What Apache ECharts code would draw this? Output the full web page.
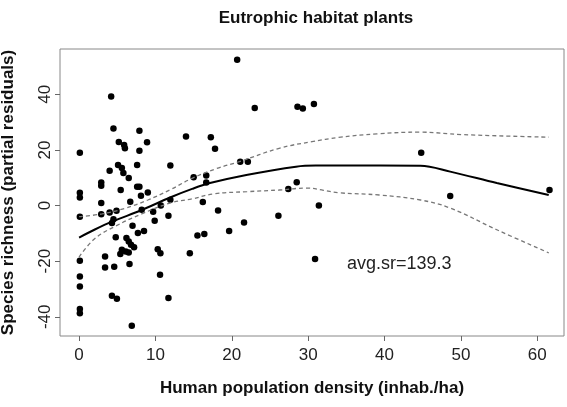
<!DOCTYPE html>
<html>
<head>
<meta charset="utf-8">
<script src="https://cdn.jsdelivr.net/npm/echarts@6/dist/echarts.min.js"></script>
<style>
  html, body { margin: 0; padding: 0; background: #fff; }
  #chart { width: 567px; height: 407px; }
</style>
</head>
<body>
<div id="chart"></div>
<script>
// partial residuals: [density, residual]
const points = [
  [0.1, 19.0], [0.1, 4.6], [0.1, 2.9], [0.1, -4.0], [0.1, -19.8],
  [0.1, -25.5], [0.1, -29.1], [0.1, -37.2], [0.1, -38.7],
  [2.9, 8.3], [2.9, 7.1], [2.9, 0.9], [2.9, -3.1], [3.4, -18.3], [3.4, -22.3],
  [4.0, 12.5], [4.0, -2.5], [4.2, 39.2], [4.3, -6.3], [4.3, -32.4],
  [4.5, 27.7], [4.5, -4.9], [4.6, -22.0], [4.8, -11.4], [4.9, -1.9],
  [4.95, -33.5], [5.1, 14.6], [5.2, 22.9], [5.45, 5.6], [5.4, -17.4],
  [5.6, 13.5], [5.6, -15.9], [5.8, 11.7], [5.9, 21.8], [6.0, 20.6],
  [6.1, -16.5], [6.2, -11.7], [6.5, 9.9], [6.5, -12.9], [6.5, -16.9],
  [6.6, -21.0], [6.7, 1.4], [6.8, -14.1], [6.9, -43.2], [7.0, -7.3],
  [7.2, -15.0], [7.6, 14.6], [7.6, 6.8], [7.7, -9.9], [7.9, 26.9],
  [7.9, 19.7], [7.9, 6.8], [8.1, 3.5], [8.2, -1.5], [8.5, -9.1],
  [8.9, 22.8], [9.0, 4.7], [9.7, -2.2], [9.9, -5.5], [10.3, -15.7],
  [10.6, -24.9], [10.65, -17.1], [10.7, 0.0], [11.7, -3.7], [11.7, -33.2],
  [11.95, 14.4], [11.95, 2.1], [14.0, 24.8], [14.5, -17.1], [15.0, 10.2],
  [15.5, -10.8], [16.2, 1.3], [16.4, -10.2], [16.65, 10.8], [16.65, 8.3],
  [17.25, 24.6], [17.8, 20.4], [18.2, -1.8], [19.65, -9.1], [20.7, 52.4],
  [21.1, 15.8], [21.6, -6.1], [22.1, 15.8], [23.0, 35.1], [26.1, -3.7],
  [27.4, 6.0], [28.5, 8.4], [28.6, 35.5], [29.3, 34.9], [30.75, 36.5],
  [30.9, -19.2], [31.4, 0.0], [44.8, 19.0], [48.6, 3.4], [61.6, 5.6]
];

// fitted smooth and its confidence band
const fitLine = [
  [0, -11.5], [2, -8.7], [4.3, -5.8], [8.2, -1.6], [12, 3.0], [14.8, 6.0],
  [17, 8.0], [21.9, 11.0], [28.4, 14.0], [31, 14.4], [34, 14.4],
  [44.7, 14.3], [48.6, 12.2], [54.7, 8.1], [61.5, 3.8]
];
const upperBand = [
  [0, -4.0], [3, -3.0], [6, -1.0], [9, 2.0], [12, 5.8], [14.8, 9.8],
  [18, 13.3], [21, 15.8], [26.2, 20.6], [30.5, 23.0], [34, 24.5],
  [39, 25.8], [44.7, 26.4], [50.3, 25.5], [61.5, 24.6]
];
const lowerBand = [
  [0, -18.5], [2, -12.0], [4.7, -7.5], [8.2, -3.0], [12, 1.0], [14.8, 2.4],
  [17.6, 4.2], [22, 5.0], [26.2, 5.6], [29.8, 6.3], [32, 5.5], [34, 4.6],
  [39.3, 3.8], [44.7, 2.0], [48.6, -0.9], [54.7, -8.7], [61.5, -17.0]
];

const xTicks = [0, 10, 20, 30, 40, 50, 60];
const yTicks = [-40, -20, 0, 20, 40];

const font = 'Liberation Sans, Arial, sans-serif';
const chart = echarts.init(document.getElementById('chart'));

chart.setOption({
  animation: false,
  title: {
    text: 'Eutrophic habitat plants',
    left: 311,
    top: 5,
    textAlign: 'center',
    textStyle: { fontFamily: font, fontSize: 17, fontWeight: 'bold', color: '#111' }
  },
  grid: {
    left: 60, top: 49, width: 504, height: 287,
    outerBoundsMode: 'none',
    containLabel: false,
    show: true, borderColor: '#888', borderWidth: 1
  },
  xAxis: {
    type: 'value',
    min: -2.5, max: 63.5,
    name: 'Human population density (inhab./ha)',
    nameLocation: 'middle',
    nameGap: 44,
    nameTextStyle: { fontFamily: font, fontSize: 17, fontWeight: 'bold', color: '#111' },
    axisLine: { show: false, onZero: false },
    splitLine: { show: false },
    axisTick: { show: true, length: 5, customValues: xTicks, lineStyle: { color: '#666' } },
    axisLabel: { customValues: xTicks, margin: 11, fontFamily: font, fontSize: 17, color: '#222' }
  },
  yAxis: {
    type: 'value',
    min: -46.9, max: 56.3,
    name: 'Species richness (partial residuals)',
    nameLocation: 'middle',
    nameGap: 43,
    nameTextStyle: { fontFamily: font, fontSize: 17, fontWeight: 'bold', color: '#111' },
    axisLine: { show: false, onZero: false },
    splitLine: { show: false },
    axisTick: { show: true, length: 5, customValues: yTicks, lineStyle: { color: '#666' } },
    axisLabel: { customValues: yTicks, rotate: 90, margin: 6, fontFamily: font, fontSize: 17, color: '#222' }
  },
  graphic: [{
    type: 'text',
    left: 347,
    top: 255,
    style: { text: 'avg.sr=139.3', font: '18px ' + font, fill: '#222' }
  }],
  series: [
    {
      type: 'scatter',
      data: points,
      symbolSize: 6.5,
      itemStyle: { color: '#000', opacity: 1 }
    },
    {
      type: 'line',
      data: fitLine,
      smooth: 0.35,
      showSymbol: false,
      lineStyle: { color: '#000', width: 2 }
    },
    {
      type: 'line',
      data: upperBand,
      smooth: 0.4,
      showSymbol: false,
      lineStyle: { color: '#777', width: 1.3, type: [4, 3] }
    },
    {
      type: 'line',
      data: lowerBand,
      smooth: 0.4,
      showSymbol: false,
      lineStyle: { color: '#777', width: 1.3, type: [4, 3] }
    }
  ]
});
</script>
</body>
</html>
